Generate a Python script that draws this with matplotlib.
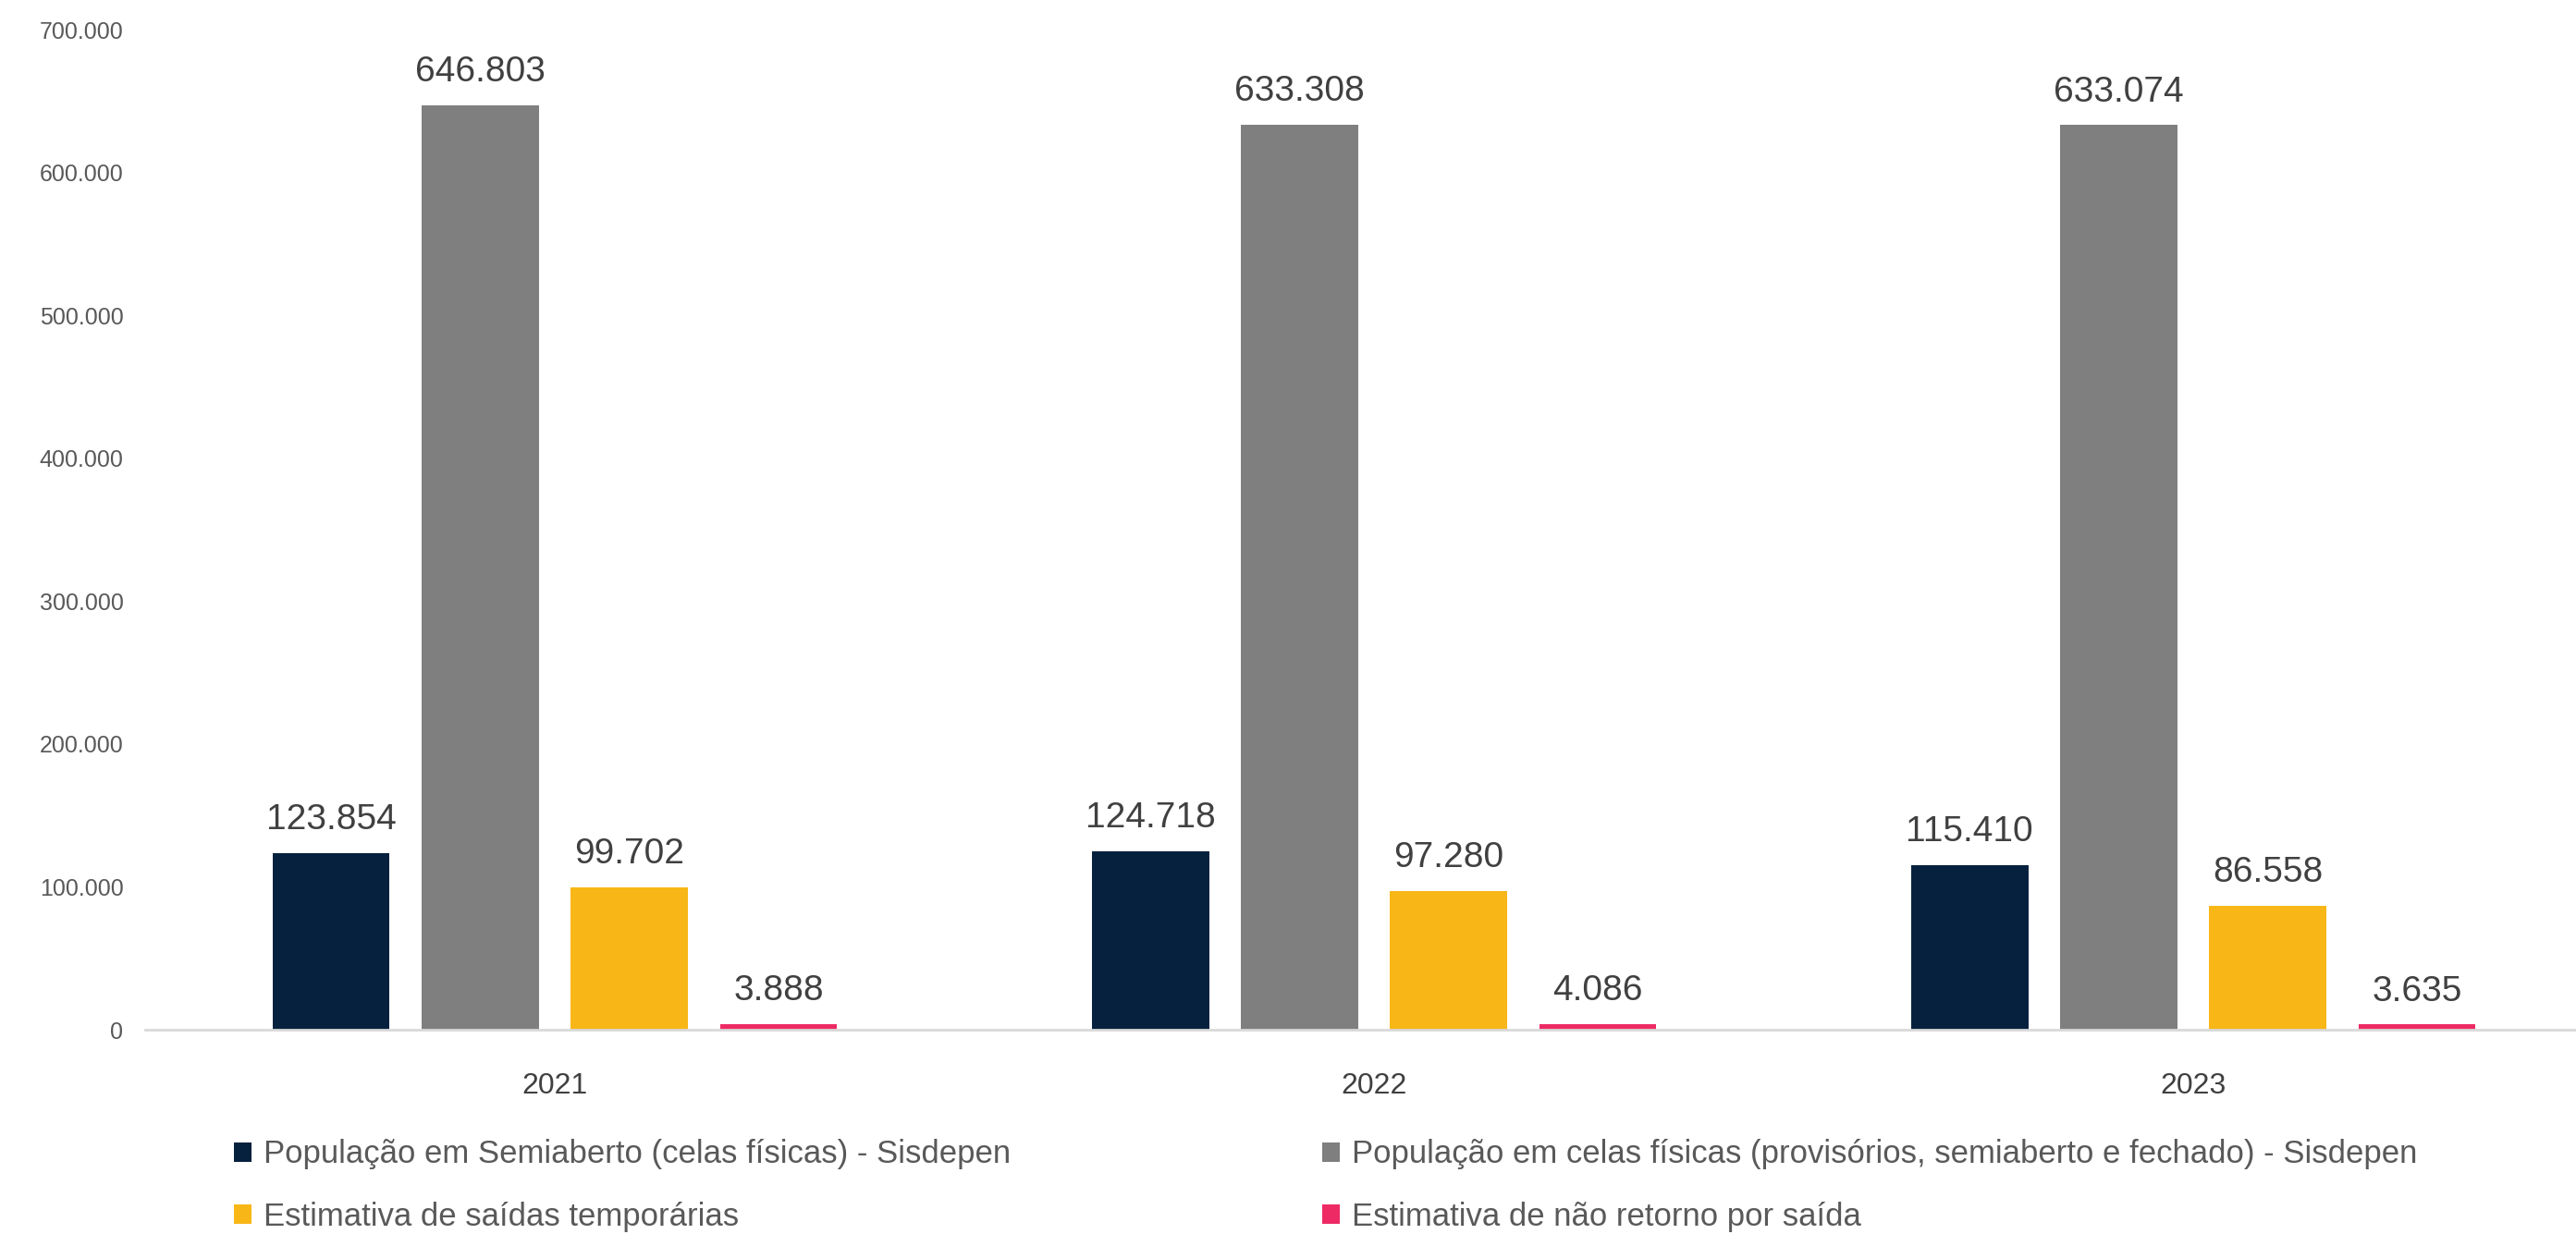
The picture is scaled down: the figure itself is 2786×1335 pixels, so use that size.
import matplotlib
matplotlib.use("Agg")
import matplotlib.pyplot as plt
import numpy as np

plt.rcParams["font.family"] = ["Liberation Sans", "DejaVu Sans"]

# Data
YEARS = ["2021", "2022", "2023"]
SERIES = [
    "População em Semiaberto (celas físicas) - Sisdepen",
    "População em celas físicas (provisórios, semiaberto e fechado) - Sisdepen",
    "Estimativa de saídas temporárias",
    "Estimativa de não retorno por saída",
]
SEMIABERTO = [123854, 124718, 115410]
CELAS_FISICAS = [646803, 633308, 633074]
SAIDAS_TEMP = [99702, 97280, 86558]
NAO_RETORNO = [3888, 4086, 3635]
COLORS = ["#06213E", "#7F7F7F", "#F8B617", "#EE2A65"]

values = [SEMIABERTO, CELAS_FISICAS, SAIDAS_TEMP, NAO_RETORNO]

W, H = 2786, 1335
fig = plt.figure(figsize=(W / 100, H / 100), dpi=100)
ax = fig.add_axes([157 / W, (H - 1114) / H, 1 - 157 / W, (1114 - 32) / H])

x = np.arange(len(YEARS))
bar_w = 0.143
step = 0.182

bars = []
for k, (vals, col, name) in enumerate(zip(values, COLORS, SERIES)):
    b = ax.bar(x + (k - 1.5) * step, vals, width=bar_w, color=col, label=name)
    bars.append(b)
    for xi, v in zip(x + (k - 1.5) * step, vals):
        ax.text(xi, v + 11500, f"{v:,}".replace(",", "."), ha="center", va="bottom",
                fontsize=28, color="#404040")

ax.set_xlim(-0.5, 2.467)
ax.set_ylim(0, 700000)
ax.set_yticks(np.arange(0, 700001, 100000))
ax.set_yticklabels([f"{int(t):,}".replace(",", ".") for t in ax.get_yticks()])
ax.set_xticks(x)
ax.set_xticklabels(YEARS)
ax.tick_params(axis="y", length=0, labelsize=18, labelcolor="#595959", pad=17)
ax.tick_params(axis="x", length=0, labelsize=23, labelcolor="#404040", pad=33)

for s in ["top", "right", "left"]:
    ax.spines[s].set_visible(False)
ax.spines["bottom"].set_color("#D9D9D9")
ax.spines["bottom"].set_linewidth(2)

leg_kw = dict(loc="upper left", frameon=False, fontsize=25, borderpad=0,
              handlelength=0.55, handleheight=0.55, handletextpad=0.35,
              labelspacing=1.0, labelcolor="#595959")
fig.legend(handles=[bars[0], bars[2]], bbox_to_anchor=(236 / W, 1 - 1215 / H), **leg_kw)
fig.legend(handles=[bars[1], bars[3]], bbox_to_anchor=(1413 / W, 1 - 1215 / H), **leg_kw)

fig.savefig("out.png", dpi=100)
